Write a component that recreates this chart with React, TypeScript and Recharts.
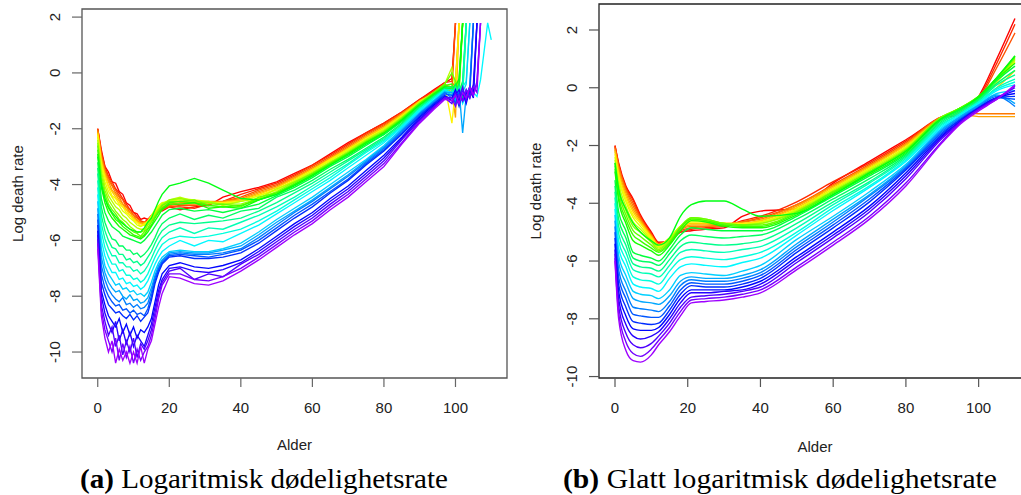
import React from 'react';
import { LineChart, Line, XAxis, YAxis, ReferenceArea } from 'recharts';

const _ = null;

// ---------- ages ----------
const L_AGES = [0,1,2,3,4,5,6,7,8,9,10,11,12,13,14,15,16,17,18,20, 23,27,31,35,40,45,50,55,60,65,70,75,80,85,90,94,97, 99,100,101,102,103,104,105,106,107,109,110];
const R_AGES = [0,1,3,5,7,10,12,15,18,21,25,30,35,40,50,60,70,80,90,95,100,105,110];
const X_TICKS = [0,20,40,60,80,100];
const Y_TICKS = [-10,-8,-6,-4,-2,0,2];

// ---------- panel (a): raw log death rates (young | middle | old) ----------
const L_WARM = [
  [-2.0,-2.75,-3.35,-3.55,-3.9,-3.95,-4.25,-4.35,-4.65,-4.75,-5.0,-5.05,-5.25,-5.2,-5.25,-5.1,-5.05,-4.9,-4.95,-4.8, -4.9,-4.8,-4.75,-4.45,-4.25,-4.1,-3.9,-3.6,-3.3,-2.9,-2.5,-2.15,-1.8,-1.4,-0.95,-0.6,-0.35, -0.2,1.79,_,_,_,_,_,_,_,_,_],
  [-2.0,-2.85,-3.35,-3.7,-3.9,-4.15,-4.3,-4.5,-4.7,-4.9,-5.0,-5.15,-5.3,-5.35,-5.25,-5.2,-5.05,-4.95,-4.85,-4.8, -4.8,-4.85,-4.7,-4.6,-4.35,-4.15,-3.95,-3.65,-3.3,-2.95,-2.55,-2.15,-1.8,-1.4,-0.95,-0.65,-0.35, -0.3,1.79,_,_,_,_,_,_,_,_,_],
  [-2.0,-2.9,-3.45,-3.75,-4.0,-4.2,-4.4,-4.55,-4.8,-4.9,-5.1,-5.2,-5.3,-5.4,-5.3,-5.25,-5.1,-5.0,-4.9,-4.8, -4.75,-4.75,-4.7,-4.6,-4.45,-4.2,-4.0,-3.7,-3.35,-3.0,-2.6,-2.2,-1.85,-1.45,-1.0,-0.65,-0.4, -0.6,1.79,_,_,_,_,_,_,_,_,_],
  [-2.05,-3.0,-3.5,-3.85,-4.05,-4.3,-4.45,-4.7,-4.8,-5.0,-5.1,-5.3,-5.35,-5.45,-5.3,-5.2,-5.1,-4.95,-4.85,-4.75, -4.7,-4.7,-4.65,-4.6,-4.5,-4.25,-4.05,-3.75,-3.4,-3.05,-2.65,-2.25,-1.9,-1.45,-1.0,-0.7,-0.45, -0.5,-0.3,1.79,_,_,_,_,_,_,_,_],
  [-2.1,-3.05,-3.6,-3.9,-4.2,-4.35,-4.55,-4.7,-4.9,-5.0,-5.2,-5.25,-5.4,-5.35,-5.35,-5.2,-5.05,-4.9,-4.8,-4.7, -4.65,-4.65,-4.6,-4.6,-4.55,-4.3,-4.1,-3.75,-3.45,-3.05,-2.7,-2.3,-1.95,-1.5,-1.05,-0.75,-0.5, -0.7,-1.6,1.79,_,_,_,_,_,_,_,_],
  [-2.15,-3.15,-3.65,-4.05,-4.25,-4.45,-4.6,-4.8,-4.9,-5.1,-5.2,-5.35,-5.4,-5.45,-5.3,-5.15,-5.0,-4.85,-4.75,-4.65, -4.6,-4.6,-4.65,-4.65,-4.55,-4.35,-4.1,-3.8,-3.45,-3.1,-2.7,-2.3,-1.95,-1.5,-1.0,-0.75,-0.55, -0.6,-0.4,1.79,_,_,_,_,_,_,_,_],
  [-2.2,-3.25,-3.75,-4.1,-4.4,-4.5,-4.7,-4.8,-5.0,-5.1,-5.25,-5.35,-5.5,-5.4,-5.35,-5.15,-4.95,-4.8,-4.7,-4.6, -4.55,-4.6,-4.65,-4.65,-4.6,-4.4,-4.15,-3.85,-3.5,-3.1,-2.75,-2.35,-2.0,-1.55,-1.05,-0.7,-0.45, -1.8,-0.6,1.79,_,_,_,_,_,_,_,_],
  [-2.3,-3.35,-3.9,-4.25,-4.45,-4.65,-4.75,-4.95,-5.05,-5.2,-5.3,-5.45,-5.5,-5.45,-5.3,-5.1,-4.9,-4.75,-4.65,-4.6, -4.5,-4.55,-4.6,-4.7,-4.6,-4.4,-4.2,-3.85,-3.5,-3.15,-2.75,-2.4,-2.0,-1.55,-1.05,-0.75,-0.5, -0.5,-0.7,-0.3,1.79,_,_,_,_,_,_,_],
];
const L_GREEN = [
  [-2.4,-3.5,-4.05,-4.4,-4.6,-4.8,-4.9,-5.1,-5.2,-5.35,-5.45,-5.55,-5.6,-5.6,-5.4,-5.25,-5.05,-4.85,-4.7,-4.55, -4.45,-4.6,-4.6,-4.75,-4.6,-4.5,-4.15,-3.9,-3.55,-3.2,-2.8,-2.4,-2.05,-1.6,-1.05,-0.7,-0.4, 0.2,-0.6,-0.2,1.79,_,_,_,_,_,_,_],
  [-2.5,-3.65,-4.2,-4.55,-4.75,-4.95,-5.1,-5.25,-5.35,-5.5,-5.6,-5.7,-5.7,-5.65,-5.45,-5.3,-5.1,-4.9,-4.75,-4.55, -4.5,-4.6,-4.65,-4.7,-4.7,-4.5,-4.25,-3.9,-3.6,-3.2,-2.85,-2.45,-2.1,-1.6,-1.1,-0.75,-0.45, -0.6,-0.4,-0.8,1.79,_,_,_,_,_,_,_],
  [-2.6,-3.8,-4.35,-4.7,-4.9,-5.05,-5.25,-5.35,-5.5,-5.6,-5.7,-5.75,-5.85,-5.7,-5.55,-5.35,-5.15,-4.95,-4.75,-4.6, -4.6,-4.55,-4.75,-4.7,-4.8,-4.45,-4.3,-3.95,-3.6,-3.25,-2.85,-2.45,-2.1,-1.65,-1.1,-0.7,-0.4, 0.0,-0.3,-0.6,1.79,_,_,_,_,_,_,_],
  [-2.75,-3.95,-4.5,-4.85,-5.05,-5.25,-5.35,-5.5,-5.6,-5.7,-5.8,-5.85,-5.9,-5.8,-5.6,-5.45,-5.2,-5.0,-4.85,-4.65, -4.6,-4.65,-4.75,-4.8,-4.75,-4.55,-4.3,-4.0,-3.65,-3.25,-2.9,-2.5,-2.15,-1.65,-1.1,-0.75,-0.45, -0.4,-0.7,-0.5,1.79,_,_,_,_,_,_,_],
  [-2.9,-4.1,-4.65,-5.0,-5.2,-5.35,-5.5,-5.6,-5.7,-5.8,-5.85,-5.9,-5.95,-5.85,-5.7,-5.5,-5.3,-5.1,-4.9,-4.7, -4.7,-4.65,-4.85,-4.8,-4.85,-4.55,-4.35,-4.0,-3.65,-3.3,-2.9,-2.5,-2.15,-1.7,-1.15,-0.75,-0.5, -0.6,-0.5,-0.2,1.79,_,_,_,_,_,_,_],
  [-3.0,-4.0,-4.5,-4.8,-5.0,-5.15,-5.3,-5.4,-5.5,-5.6,-5.65,-5.7,-5.7,-5.55,-5.35,-5.2,-4.9,-4.6,-4.35,-4.05, -3.95,-3.78,-3.95,-4.2,-4.5,-4.55,-4.35,-4.05,-3.7,-3.3,-2.95,-2.55,-2.2,-1.7,-1.15,-0.8,-0.5, -0.5,-0.8,-0.4,1.79,_,_,_,_,_,_,_],
  [-3.2,-4.5,-5.0,-5.3,-5.5,-5.6,-5.7,-5.85,-5.9,-5.95,-6.0,-6.05,-6.1,-6.0,-5.85,-5.7,-5.5,-5.3,-5.1,-4.9, -4.85,-4.95,-4.9,-5.0,-4.85,-4.7,-4.4,-4.1,-3.75,-3.35,-3.0,-2.6,-2.2,-1.75,-1.2,-0.8,-0.55, -0.6,-0.4,-0.7,-0.3,1.79,_,_,_,_,_,_],
];
const L_CYAN = [
  [-3.4,-4.8,-5.35,-5.7,-5.95,-6.0,-6.2,-6.2,-6.35,-6.35,-6.5,-6.45,-6.6,-6.5,-6.35,-6.15,-5.9,-5.6,-5.4,-5.2, -5.05,-5.25,-5.1,-5.2,-4.95,-4.85,-4.45,-4.2,-3.85,-3.45,-3.1,-2.7,-2.3,-1.8,-1.2,-0.85,-0.55, -0.5,-0.7,-0.4,-0.9,1.79,_,_,_,_,_,_],
  [-3.6,-5.1,-5.65,-6.0,-6.25,-6.3,-6.5,-6.5,-6.7,-6.65,-6.8,-6.75,-6.9,-6.8,-6.6,-6.4,-6.1,-5.85,-5.65,-5.45, -5.35,-5.4,-5.35,-5.3,-5.2,-4.95,-4.65,-4.3,-3.95,-3.55,-3.15,-2.75,-2.35,-1.85,-1.25,-0.85,-0.6, -0.7,-0.5,-0.8,-0.4,1.79,_,_,_,_,_,_],
  [-3.85,-5.4,-5.95,-6.3,-6.55,-6.55,-6.8,-6.8,-6.95,-6.95,-7.1,-7.05,-7.2,-7.1,-6.9,-6.65,-6.35,-6.1,-5.9,-5.7, -5.55,-5.75,-5.55,-5.6,-5.35,-5.1,-4.8,-4.45,-4.05,-3.65,-3.25,-2.8,-2.4,-1.9,-1.3,-0.9,-0.6, -0.6,-0.9,-0.5,-0.7,1.79,_,_,_,_,_,_],
  [-4.1,-5.7,-6.25,-6.6,-6.85,-6.85,-7.1,-7.05,-7.25,-7.25,-7.4,-7.35,-7.5,-7.4,-7.2,-6.9,-6.6,-6.35,-6.15,-5.95, -5.85,-5.9,-5.85,-5.75,-5.6,-5.3,-4.95,-4.55,-4.15,-3.75,-3.3,-2.85,-2.45,-1.9,-1.3,-0.9,-0.6, -0.8,-0.6,-1.0,-0.5,-0.3,1.79,_,_,_,_,_],
  [-4.35,-6.0,-6.55,-6.9,-7.15,-7.15,-7.4,-7.35,-7.55,-7.5,-7.65,-7.6,-7.75,-7.65,-7.45,-7.15,-6.85,-6.6,-6.4,-6.2, -6.0,-6.2,-6.0,-6.05,-5.75,-5.45,-5.05,-4.65,-4.25,-3.85,-3.4,-2.95,-2.5,-1.95,-1.35,-0.95,-0.65, -0.7,-0.9,-0.6,-1.1,-0.8,-0.5,-0.7,-0.85,-0.25,1.79,1.18],
];
const L_BLUE = [
  [-4.6,-6.3,-6.9,-7.2,-7.4,-7.6,-7.55,-7.75,-7.7,-7.85,-7.8,-7.95,-7.9,-8.0,-7.85,-7.5,-7.1,-6.8,-6.6,-6.4, -6.35,-6.4,-6.4,-6.3,-6.1,-5.7,-5.25,-4.85,-4.45,-4.0,-3.55,-3.1,-2.6,-2.0,-1.4,-1.0,-0.65, -0.8,-0.6,-0.9,-0.7,-0.4,1.79,_,_,_,_,_],
  [-4.85,-6.6,-7.15,-7.5,-7.7,-7.85,-7.8,-8.0,-8.1,-7.95,-8.15,-8.1,-8.25,-8.2,-8.05,-7.7,-7.25,-6.9,-6.7,-6.45, -6.4,-6.45,-6.45,-6.35,-6.2,-5.8,-5.35,-4.95,-4.55,-4.1,-3.65,-3.15,-2.65,-2.05,-1.45,-1.0,-0.7, -0.7,-1.0,-0.6,-2.15,-0.8,-0.5,1.79,_,_,_,_],
  [-5.05,-6.9,-7.4,-7.75,-7.95,-8.1,-8.2,-8.05,-8.3,-8.25,-8.4,-8.3,-8.45,-8.4,-8.25,-7.85,-7.35,-7.0,-6.75,-6.5, -6.45,-6.5,-6.5,-6.45,-6.3,-5.9,-5.45,-5.0,-4.6,-4.15,-3.7,-3.2,-2.7,-2.1,-1.45,-1.05,-0.7, -0.9,-0.7,-1.1,-0.6,-0.9,-0.5,1.79,_,_,_,_],
  [-5.25,-7.2,-7.7,-8.0,-8.2,-8.35,-8.3,-8.5,-8.45,-8.6,-8.5,-8.65,-8.6,-8.7,-8.45,-8.0,-7.45,-7.05,-6.8,-6.55, -6.5,-6.55,-6.6,-6.5,-6.35,-6.0,-5.55,-5.1,-4.7,-4.25,-3.8,-3.25,-2.75,-2.15,-1.5,-1.1,-0.75, -0.8,-1.1,-0.7,-1.0,-0.6,-0.8,1.79,_,_,_,_],
  [-5.45,-7.5,-7.95,-8.3,-8.45,-8.6,-8.55,-8.7,-8.8,-8.65,-8.85,-8.7,-8.9,-8.75,-8.6,-8.15,-7.55,-7.15,-6.85,-6.6, -6.55,-6.65,-6.65,-6.6,-6.45,-6.1,-5.65,-5.2,-4.8,-4.3,-3.85,-3.3,-2.8,-2.2,-1.55,-1.1,-0.8, -1.0,-0.8,-1.2,-0.7,-0.9,-0.5,-0.7,1.79,_,_,_],
];
const L_VIOLET = [
  [-5.65,-7.8,-8.3,-8.7,-8.9,-9.1,-8.8,-9.3,-9.0,-9.4,-9.1,-9.5,-9.2,-9.3,-9.1,-8.8,-8.2,-7.6,-7.2,-6.9, -6.8,-6.95,-7.0,-6.9,-6.7,-6.3,-5.85,-5.4,-5.0,-4.5,-4.05,-3.5,-2.95,-2.3,-1.6,-1.15,-0.85, -0.9,-0.6,-1.0,-0.7,-1.1,-0.6,-0.9,1.79,_,_,_],
  [-5.8,-8.0,-8.6,-9.0,-9.3,-8.9,-9.6,-9.2,-9.7,-9.3,-9.8,-9.4,-9.6,-9.8,-9.4,-9.0,-8.4,-7.8,-7.4,-7.0, -6.95,-7.1,-7.15,-7.05,-6.8,-6.4,-5.95,-5.5,-5.1,-4.6,-4.15,-3.6,-3.05,-2.35,-1.65,-1.2,-0.85, -1.0,-0.8,-0.6,-1.0,-0.7,-0.9,-0.4,1.79,_,_,_],
  [-5.95,-8.3,-8.9,-9.4,-9.1,-9.8,-9.4,-10.1,-9.6,-10.0,-9.5,-10.2,-9.7,-9.9,-9.6,-9.2,-8.6,-7.95,-7.5,-7.1, -7.0,-7.4,-7.2,-7.3,-6.85,-6.5,-6.05,-5.6,-5.2,-4.7,-4.25,-3.7,-3.15,-2.4,-1.7,-1.2,-0.9, -1.1,-0.7,-0.9,-0.5,-1.0,-0.6,-0.8,-0.3,1.79,_,_],
  [-6.1,-8.5,-9.2,-9.6,-10.0,-9.5,-10.3,-9.7,-10.2,-9.8,-10.4,-9.9,-10.3,-10.0,-9.8,-9.4,-8.8,-8.1,-7.6,-7.2, -7.2,-7.4,-7.45,-7.3,-7.0,-6.6,-6.15,-5.7,-5.3,-4.8,-4.35,-3.8,-3.25,-2.5,-1.75,-1.25,-0.9, -0.9,-1.2,-0.8,-1.0,-0.6,-0.9,-0.5,-0.7,1.79,_,_],
  [-6.3,-8.7,-9.5,-10.0,-9.6,-10.4,-9.9,-10.3,-10.0,-10.4,-10.0,-10.4,-9.8,-10.4,-9.9,-9.6,-9.0,-8.4,-7.9,-7.3, -7.35,-7.55,-7.6,-7.45,-7.1,-6.7,-6.25,-5.8,-5.4,-4.9,-4.45,-3.9,-3.35,-2.55,-1.8,-1.3,-0.95, -1.0,-0.8,-1.1,-0.7,-0.9,-0.5,-0.8,-0.4,1.79,_,_],
];

// ---------- panel (b): smoothed log death rates ----------
const R_WARM = [
  [-2.0,-2.6,-3.4,-3.85,-4.4,-5.0,-5.35,-5.3,-5.0,-4.95,-4.9,-4.85,-4.45,-4.27,-4.2,-3.3,-2.55,-1.8,-1.05,-0.95,-0.3,1.0,2.4],
  [-2.0,-2.65,-3.45,-3.9,-4.45,-5.05,-5.4,-5.3,-5.0,-4.9,-4.85,-4.8,-4.6,-4.45,-3.95,-3.25,-2.6,-1.85,-1.0,-0.9,-0.35,0.85,2.2],
  [-2.05,-2.7,-3.5,-4.0,-4.5,-5.1,-5.4,-5.3,-4.95,-4.85,-4.8,-4.75,-4.65,-4.5,-4.05,-3.35,-2.65,-1.9,-1.0,-0.85,-0.4,0.7,1.9],
  [-2.1,-2.75,-3.55,-4.1,-4.55,-5.1,-5.4,-5.25,-4.9,-4.8,-4.8,-4.75,-4.65,-4.55,-4.05,-3.4,-2.7,-1.95,-1.0,-0.85,-0.9,-0.9,-0.9],
  [-2.15,-2.85,-3.65,-4.2,-4.6,-5.15,-5.45,-5.25,-4.9,-4.75,-4.75,-4.7,-4.7,-4.6,-4.1,-3.4,-2.7,-1.95,-1.05,-0.9,-1.0,-1.0,-1.0],
  [-2.2,-2.95,-3.75,-4.3,-4.65,-5.15,-5.45,-5.2,-4.85,-4.7,-4.7,-4.7,-4.7,-4.6,-4.15,-3.45,-2.75,-2.0,-1.05,-0.8,-0.5,0.0,0.6],
  [-2.3,-3.05,-3.85,-4.4,-4.7,-5.2,-5.45,-5.2,-4.8,-4.65,-4.65,-4.7,-4.7,-4.65,-4.2,-3.5,-2.8,-2.05,-1.05,-0.75,-0.4,0.2,0.9],
  [-2.4,-3.15,-3.95,-4.5,-4.8,-5.25,-5.5,-5.2,-4.8,-4.6,-4.6,-4.7,-4.75,-4.65,-4.2,-3.5,-2.8,-2.05,-1.05,-0.75,-0.35,0.3,1.05],
];
const R_GREEN = [
  [-2.5,-3.3,-4.1,-4.65,-4.9,-5.3,-5.55,-5.25,-4.8,-4.55,-4.6,-4.7,-4.75,-4.7,-4.25,-3.55,-2.85,-2.1,-1.0,-0.7,-0.3,0.3,0.95],
  [-2.6,-3.45,-4.25,-4.8,-5.0,-5.35,-5.6,-5.3,-4.8,-4.5,-4.55,-4.7,-4.75,-4.7,-4.3,-3.6,-2.9,-2.15,-1.0,-0.7,-0.3,0.3,1.0],
  [-2.7,-3.6,-4.4,-4.95,-5.15,-5.45,-5.65,-5.35,-4.85,-4.5,-4.55,-4.7,-4.75,-4.75,-4.3,-3.6,-2.9,-2.15,-1.0,-0.7,-0.3,0.35,1.05],
  [-2.8,-3.75,-4.55,-5.1,-5.3,-5.55,-5.7,-5.4,-4.85,-4.55,-4.6,-4.75,-4.8,-4.8,-4.35,-3.65,-2.95,-2.2,-1.05,-0.7,-0.3,0.35,1.1],
  [-2.9,-3.9,-4.7,-5.3,-5.45,-5.65,-5.8,-5.45,-4.95,-4.6,-4.65,-4.8,-4.85,-4.85,-4.4,-3.7,-3.0,-2.25,-1.05,-0.75,-0.35,0.3,0.85],
  [-2.6,-3.5,-4.2,-4.7,-5.0,-5.3,-5.45,-5.2,-4.45,-4.05,-3.92,-3.92,-4.2,-4.45,-4.35,-3.7,-2.95,-2.2,-1.05,-0.75,-0.3,0.35,1.1],
  [-3.2,-4.3,-4.95,-5.7,-5.8,-5.9,-6.0,-5.6,-5.1,-4.85,-4.9,-4.95,-4.95,-4.95,-4.45,-3.75,-3.05,-2.3,-1.1,-0.75,-0.4,0.25,0.75],
];
const R_CYAN = [
  [-3.4,-4.55,-5.2,-5.9,-6.0,-6.05,-6.15,-5.75,-5.3,-5.1,-5.15,-5.2,-5.15,-5.1,-4.55,-3.85,-3.15,-2.35,-1.15,-0.8,-0.4,0.15,0.6],
  [-3.6,-4.8,-5.45,-6.1,-6.2,-6.25,-6.35,-5.95,-5.5,-5.35,-5.4,-5.45,-5.4,-5.3,-4.7,-3.95,-3.25,-2.4,-1.2,-0.85,-0.45,0.1,0.45],
  [-3.8,-5.05,-5.7,-6.3,-6.4,-6.45,-6.55,-6.15,-5.7,-5.6,-5.65,-5.7,-5.6,-5.5,-4.85,-4.05,-3.3,-2.45,-1.25,-0.9,-0.5,0.0,0.3],
  [-4.0,-5.3,-5.95,-6.55,-6.65,-6.7,-6.8,-6.35,-5.95,-5.85,-5.9,-5.95,-5.85,-5.7,-5.0,-4.15,-3.4,-2.5,-1.3,-0.9,-0.5,-0.05,0.2],
  [-4.2,-5.55,-6.2,-6.8,-6.9,-6.95,-7.05,-6.6,-6.2,-6.1,-6.15,-6.2,-6.05,-5.9,-5.1,-4.25,-3.45,-2.55,-1.35,-0.95,-0.55,-0.1,0.1],
];
const R_BLUE = [
  [-4.4,-5.8,-6.5,-7.05,-7.15,-7.2,-7.3,-7.0,-6.5,-6.4,-6.45,-6.5,-6.35,-6.15,-5.25,-4.45,-3.6,-2.65,-1.4,-1.0,-0.6,-0.2,-0.1],
  [-4.6,-6.05,-6.75,-7.3,-7.4,-7.45,-7.5,-7.2,-6.7,-6.55,-6.6,-6.6,-6.5,-6.3,-5.4,-4.55,-3.7,-2.7,-1.45,-1.0,-0.6,-0.25,-0.55],
  [-4.8,-6.3,-7.05,-7.6,-7.65,-7.7,-7.75,-7.4,-6.85,-6.65,-6.7,-6.7,-6.6,-6.4,-5.5,-4.65,-3.75,-2.75,-1.5,-1.05,-0.65,-0.3,-0.65],
  [-5.0,-6.55,-7.3,-7.85,-7.9,-7.95,-7.95,-7.55,-7.0,-6.75,-6.8,-6.8,-6.7,-6.5,-5.6,-4.75,-3.85,-2.8,-1.55,-1.1,-0.7,-0.35,-0.4],
  [-5.2,-6.8,-7.6,-8.1,-8.15,-8.2,-8.15,-7.7,-7.15,-6.85,-6.9,-6.9,-6.8,-6.6,-5.7,-4.85,-3.95,-2.85,-1.6,-1.1,-0.7,-0.35,-0.3],
];
const R_VIOLET = [
  [-5.4,-7.05,-7.9,-8.35,-8.4,-8.4,-8.3,-7.85,-7.3,-7.0,-7.0,-7.0,-6.9,-6.7,-5.85,-5.0,-4.1,-2.95,-1.65,-1.15,-0.7,-0.35,-0.2],
  [-5.6,-7.3,-8.2,-8.6,-8.7,-8.6,-8.45,-8.0,-7.45,-7.1,-7.1,-7.05,-7.0,-6.8,-5.95,-5.1,-4.2,-3.05,-1.7,-1.15,-0.7,-0.35,-0.1],
  [-5.75,-7.55,-8.5,-8.9,-9.0,-8.85,-8.6,-8.15,-7.6,-7.25,-7.2,-7.15,-7.05,-6.9,-6.05,-5.2,-4.3,-3.15,-1.75,-1.2,-0.75,-0.35,0.0],
  [-5.9,-7.8,-8.8,-9.2,-9.3,-9.05,-8.75,-8.3,-7.75,-7.35,-7.3,-7.25,-7.15,-7.0,-6.2,-5.35,-4.45,-3.3,-1.85,-1.2,-0.75,-0.4,0.05],
  [-6.0,-8.0,-9.1,-9.45,-9.5,-9.25,-8.9,-8.45,-7.9,-7.45,-7.4,-7.35,-7.25,-7.1,-6.3,-5.45,-4.55,-3.4,-1.9,-1.25,-0.8,-0.4,0.1],
];

const LEFT_CURVES = [...L_WARM, ...L_GREEN, ...L_CYAN, ...L_BLUE, ...L_VIOLET];
const RIGHT_CURVES = [...R_WARM, ...R_GREEN, ...R_CYAN, ...R_BLUE, ...R_VIOLET];

function buildRows(ages: number[], curves: (number | null)[][]) {
  return ages.map((a, k) => {
    const row: any = { age: a };
    curves.forEach((c, i) => {
      const v = c[k];
      row['c' + i] = v === undefined ? null : v;
    });
    return row;
  });
}

const leftRows = buildRows(L_AGES, LEFT_CURVES);
const rightRows = buildRows(R_AGES, RIGHT_CURVES);

function rainbow(i: number, n: number) {
  const h = (0.77 * i) / (n - 1);
  const h6 = h * 6;
  const k = Math.floor(h6);
  const f = h6 - k;
  let r = 0, g = 0, b = 0;
  switch (k) {
    case 0: r = 1; g = f; b = 0; break;
    case 1: r = 1 - f; g = 1; b = 0; break;
    case 2: r = 0; g = 1; b = f; break;
    case 3: r = 0; g = 1 - f; b = 1; break;
    case 4: r = f; g = 0; b = 1; break;
    default: r = 1; g = 0; b = 1 - f;
  }
  const hx = (x: number) => Math.round(x * 255).toString(16).padStart(2, '0');
  return '#' + hx(r) + hx(g) + hx(b);
}

const SANS = "'Liberation Sans', Arial, Helvetica, sans-serif";
const SERIF = "'Liberation Serif', 'Times New Roman', serif";
const X_DOMAIN: [number, number] = [-4.4, 114.4];
const L_Y_DOMAIN: [number, number] = [-10.93, 2.29];
const R_Y_DOMAIN: [number, number] = [-10.05, 2.9];

const XTick = (props: any) => {
  const { x, y, payload } = props;
  return (
    <text x={x} y={y} dy="0.71em" textAnchor="middle" fontFamily={SANS} fontSize={15} fill="#222">
      {payload.value}
    </text>
  );
};
const YTick = (props: any) => {
  const { x, y, payload } = props;
  return (
    <text transform={`translate(${x},${y}) rotate(-90)`} textAnchor="middle" fontFamily={SANS} fontSize={15} fill="#222">
      {payload.value}
    </text>
  );
};

function Panel(props: {
  rows: any[]; n: number; yDomain: [number, number]; width: number; height: number;
  top: number; right: number; yWidth: number; smooth: boolean; boxColor: string; tickColor: string; lineWidth: number;
}) {
  const { rows, n, yDomain, width, height, top, right, yWidth, smooth, boxColor, tickColor, lineWidth } = props;
  const keys = Array.from({ length: n }, (_v, i) => 'c' + i);
  return (
    <LineChart width={width} height={height} data={rows} margin={{ top, right, bottom: 0, left: 0 }}>
      <XAxis dataKey="age" type="number" domain={X_DOMAIN} ticks={X_TICKS} interval={0}
        allowDataOverflow height={42} tickSize={9} tickMargin={15} axisLine={false}
        tickLine={{ stroke: tickColor, strokeWidth: 1.2 }} tick={XTick} />
      <YAxis type="number" domain={yDomain} ticks={Y_TICKS} interval={0} allowDataOverflow
        width={yWidth} tickSize={10} tickMargin={12} axisLine={false}
        tickLine={{ stroke: tickColor, strokeWidth: 1.2 }} tick={YTick} />
      <ReferenceArea x1={X_DOMAIN[0]} x2={X_DOMAIN[1]} y1={yDomain[0]} y2={yDomain[1]}
        fill="none" fillOpacity={0} stroke={boxColor} strokeWidth={1.3} ifOverflow="visible" />
      {keys.map((k, i) => (
        <Line key={k} dataKey={k} type={smooth ? 'monotone' : 'linear'} stroke={rainbow(i, n)}
          strokeWidth={lineWidth} dot={false} activeDot={false} isAnimationActive={false} connectNulls={false} />
      ))}
    </LineChart>
  );
}

export default function App() {
  return (
    <div style={{ position: 'absolute', left: 0, top: 0, width: 1021, height: 495, overflow: 'hidden', background: '#fff' }}>
      <div style={{ position: 'absolute', left: 0, top: 0 }}>
        <Panel rows={leftRows} n={LEFT_CURVES.length} yDomain={L_Y_DOMAIN} width={520} height={420}
          top={9} right={13} yWidth={82} smooth={false} boxColor="#555" tickColor="#666" lineWidth={1.35} />
      </div>
      <div style={{ position: 'absolute', left: 520, top: 0 }}>
        <Panel rows={rightRows} n={RIGHT_CURVES.length} yDomain={R_Y_DOMAIN} width={511} height={420}
          top={4} right={0} yWidth={79} smooth={true} boxColor="#222" tickColor="#555" lineWidth={1.4} />
      </div>
      <svg width={1021} height={495} style={{ position: 'absolute', left: 0, top: 0, pointerEvents: 'none' }}>
        <text transform="translate(23,193.5) rotate(-90)" textAnchor="middle" fontFamily={SANS} fontSize={15} fill="#222">Log death rate</text>
        <text transform="translate(541,191) rotate(-90)" textAnchor="middle" fontFamily={SANS} fontSize={15} fill="#222">Log death rate</text>
        <text x={294.5} y={450} textAnchor="middle" fontFamily={SANS} fontSize={15} fill="#222">Alder</text>
        <text x={815} y={452} textAnchor="middle" fontFamily={SANS} fontSize={15} fill="#222">Alder</text>
        <text x={80} y={488} fontFamily={SERIF} fontSize={28} fill="#000" textLength={368} lengthAdjust="spacingAndGlyphs">
          <tspan fontWeight="bold">(a)</tspan> Logaritmisk dødelighetsrate
        </text>
        <text x={563} y={488} fontFamily={SERIF} fontSize={28} fill="#000" textLength={434} lengthAdjust="spacingAndGlyphs">
          <tspan fontWeight="bold">(b)</tspan> Glatt logaritmisk dødelighetsrate
        </text>
      </svg>
    </div>
  );
}
